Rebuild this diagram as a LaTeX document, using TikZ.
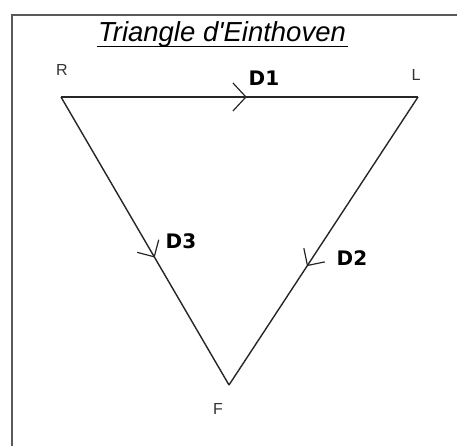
\documentclass[tikz,border=0pt]{standalone}
\usepackage{fontspec}
\setmainfont{Liberation Sans}
\newfontfamily\heavyfont{DejaVu Sans}
\usetikzlibrary{decorations.markings}
\begin{document}
\begin{tikzpicture}[x=1pt,y=-1pt,
  side/.style={line width=1.4pt, black!85},
  frameline/.style={line width=1.4pt, black!65},
  vlabel/.style={font=\fontsize{16}{16}\selectfont, inner sep=0pt, text=black!80},
  dlabel/.style={font=\heavyfont\bfseries\fontsize{20}{20}\selectfont, inner sep=0pt},
  chev/.style={line width=1.2pt, black!85}]
\useasboundingbox (0,0) rectangle (457,446);
\coordinate (fa) at (12,446);
\coordinate (fb) at (12,15);
\coordinate (fc) at (457,15);
\draw[frameline] (fa) -- (fb) -- (fc);
\node[inner sep=0pt] (title) at (222,34) {\fontsize{27.5}{27.5}\selectfont\itshape Triangle d\textquotesingle Einthoven};
\coordinate (ul1) at (97,46.5);
\coordinate (ul2) at (348,46.5);
\draw[line width=1.3pt] (ul1) -- (ul2);
\coordinate (R) at (61,97);
\coordinate (L) at (418,97);
\coordinate (F) at (229,385);
\node[vlabel] (lR) at (62,70) {R};
\node[vlabel] (lL) at (416,75) {L};
\node[vlabel] (lF) at (218,409) {F};
\draw[side, postaction={decorate}, decoration={markings, mark=at position 0.518 with {\draw[chev] (-13pt,14pt) -- (0pt,0pt) -- (-13pt,-14pt);}}] (R) -- (L);
\draw[side, postaction={decorate}, decoration={markings, mark=at position 0.555 with {\draw[chev] (-12.5pt,12.5pt) -- (0pt,0pt) -- (-12.5pt,-12.5pt);}}] (R) -- (F);
\draw[side, postaction={decorate}, decoration={markings, mark=at position 0.585 with {\draw[chev] (-12.5pt,12.5pt) -- (0pt,0pt) -- (-12.5pt,-12.5pt);}}] (L) -- (F);
\node[dlabel] (D1) at (264,78) {D1};
\node[dlabel] (D2) at (352,258) {D2};
\node[dlabel] (D3) at (181,241) {D3};
\end{tikzpicture}
\end{document}
